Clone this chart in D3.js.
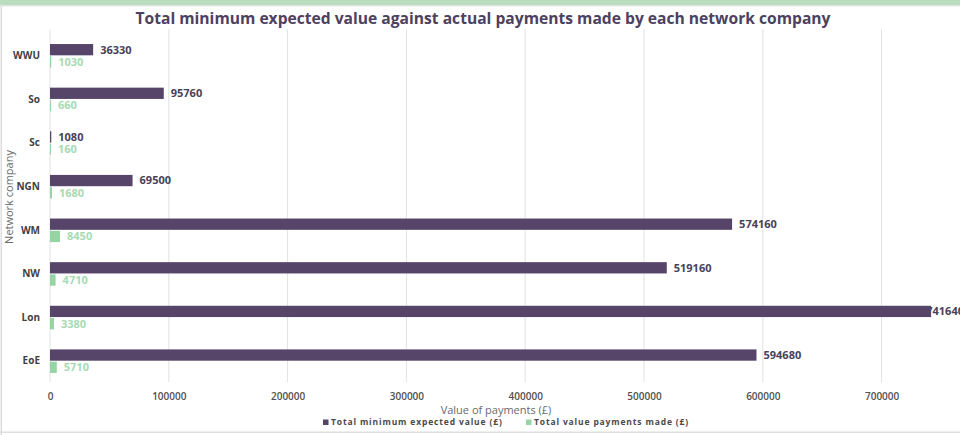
<!DOCTYPE html>
<html>
<head>
<meta charset="utf-8">
<script src="https://cdn.jsdelivr.net/npm/d3@7"></script>
<style>
  html, body { margin: 0; padding: 0; background: #fff; overflow: hidden; }
  svg { display: block; font-family: "Open Sans", "Noto Sans", sans-serif; }
</style>
</head>
<body>
<svg id="chart" width="960" height="435"></svg>
<script>
// Network companies, top to bottom
const companies = ["WWU", "So", "Sc", "NGN", "WM", "NW", "Lon", "EoE"];
// Total minimum expected value (£)
const expectedValues = [36330, 95760, 1080, 69500, 574160, 519160, 741640, 594680];
// Total value of payments made (£)
const paymentsMade = [1030, 660, 160, 1680, 8450, 4710, 3380, 5710];
const seriesNames = ["Total minimum expected value (£)", "Total value payments made (£)"];
const xTicks = [0, 100000, 200000, 300000, 400000, 500000, 600000, 700000];

const colors = ["#574569", "#95d5a4"];
const labelColors = ["#47415a", "#a7dab3"];

const svg = d3.select("#chart");
const W = 960, H = 435;
const margin = { left: 50, top: 34, bottom: 52 };

// Frame: green band along the top, thin grey edges
svg.append("rect").attr("x", 0).attr("y", 0).attr("width", W).attr("height", 5).attr("fill", "#b9ddbd");
svg.append("rect").attr("x", 0).attr("y", 5).attr("width", W).attr("height", 1.5).attr("fill", "#e4e4e4");
svg.append("rect").attr("x", 0.5).attr("y", 6).attr("width", 1.5).attr("height", H - 6).attr("fill", "#dedede");
svg.append("rect").attr("x", 0).attr("y", 431.5).attr("width", W).attr("height", 1.5).attr("fill", "#dedede");

const x = d3.scaleLinear().domain([0, 750000]).range([margin.left, margin.left + 7.5 * 118.8]);
const y = d3.scaleBand().domain(companies).range([margin.top, H - margin.bottom]).paddingInner(0.46).paddingOuter(0.23);
const sub = d3.scaleBand().domain([0, 1]).range([0, y.bandwidth()]).paddingInner(0.08);

// Vertical gridlines
svg.append("g").selectAll("line").data(xTicks).join("line")
  .attr("x1", d => x(d)).attr("x2", d => x(d))
  .attr("y1", 29).attr("y2", 382)
  .attr("stroke", "#e2e2e2").attr("stroke-width", 1);

// X axis tick labels
const xAxis = d3.axisBottom(x).tickValues(xTicks).tickFormat(d3.format("d")).tickSize(0).tickPadding(0);
const gx = svg.append("g").attr("transform", "translate(0,393)").call(xAxis);
gx.select(".domain").remove();
gx.selectAll("text").attr("font-size", 10).attr("font-weight", 600).attr("fill", "#505050")
  .attr("font-family", "'Open Sans', sans-serif");

// Y axis category labels
const yAxis = d3.axisLeft(y).tickSize(0).tickPadding(10);
const gy = svg.append("g").attr("transform", `translate(${margin.left},0)`).call(yAxis);
gy.select(".domain").remove();
gy.selectAll("text").attr("font-size", 10).attr("font-weight", 700).attr("fill", "#3f3f3f")
  .attr("font-family", "'Open Sans', sans-serif");

const rows = companies.map((c, i) => ({ c, v: [expectedValues[i], paymentsMade[i]] }));
const groups = svg.append("g").selectAll("g").data(rows).join("g")
  .attr("transform", d => `translate(0,${y(d.c)})`);

// Value labels (drawn first; labels that would run past the right edge are pulled back toward it)
const labels = groups.selectAll("text").data(d => d.v.map((v, k) => ({ v, k }))).join("text")
  .attr("y", d => sub(d.k) + sub.bandwidth() / 2)
  .attr("dy", "0.35em")
  .attr("font-size", 11).attr("font-weight", 700)
  .attr("fill", d => labelColors[d.k])
  .text(d => d.v);
labels.attr("x", function (d) {
  const w = this.getComputedTextLength();
  return Math.min(Math.max(x(d.v), x(0) + 1) + 7, W + 4 - w);
});

// Bars
groups.selectAll("rect").data(d => d.v.map((v, k) => ({ v, k }))).join("rect")
  .attr("x", x(0))
  .attr("y", d => sub(d.k))
  .attr("width", d => Math.max(1, x(d.v) - x(0)))
  .attr("height", sub.bandwidth())
  .attr("fill", d => colors[d.k]);

// Title
svg.append("text").attr("x", 483).attr("y", 24).attr("text-anchor", "middle")
  .attr("font-size", 16.5).attr("font-weight", 700).attr("fill", "#4d4160")
  .attr("textLength", 695).attr("lengthAdjust", "spacingAndGlyphs")
  .text("Total minimum expected value against actual payments made by each network company");

// Axis titles
svg.append("text").attr("x", 496).attr("y", 414).attr("text-anchor", "middle")
  .attr("font-size", 11).attr("fill", "#6a6a6a")
  .text("Value of payments (£)");
svg.append("text").attr("transform", "translate(13,197) rotate(-90)").attr("text-anchor", "middle")
  .attr("font-size", 11).attr("fill", "#6a6a6a")
  .text("Network company");

// Legend
const legendX = [323, 526];
const lg = svg.append("g").selectAll("g").data(seriesNames).join("g")
  .attr("transform", (d, i) => `translate(${legendX[i]},425)`);
lg.append("rect").attr("x", 0).attr("y", -5.5).attr("width", 5.5).attr("height", 5.5)
  .attr("fill", (d, i) => colors[i]);
lg.append("text").attr("x", 8).attr("y", 0)
  .attr("font-size", 8.5).attr("font-weight", 700).attr("fill", "#4a4a4a")
  .attr("letter-spacing", 0.85)
  .text(d => d);
</script>
</body>
</html>
